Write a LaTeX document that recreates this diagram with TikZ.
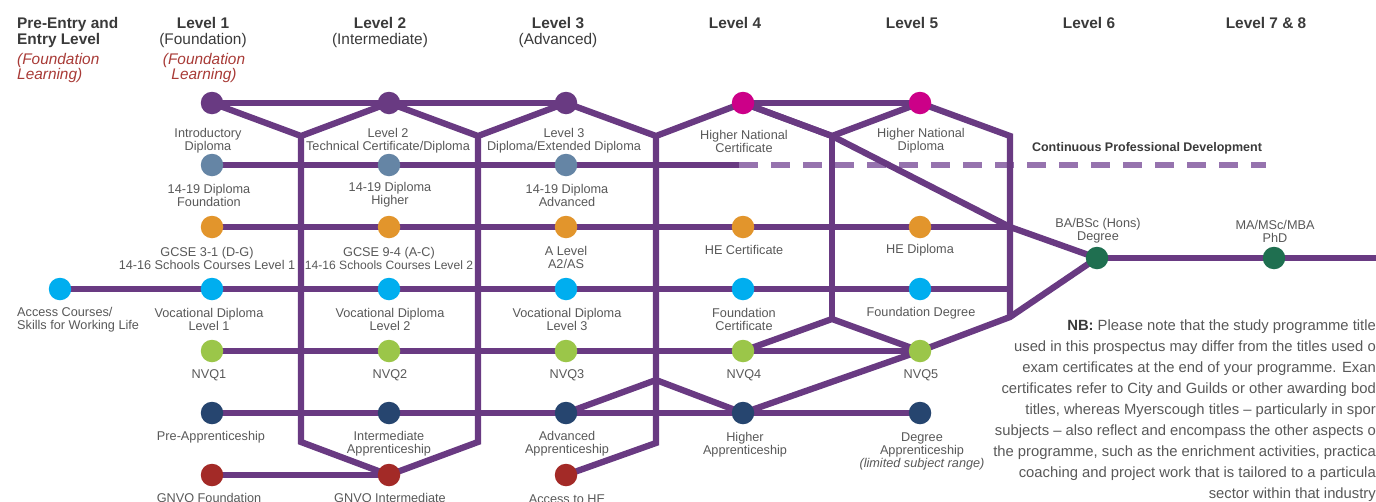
\documentclass[tikz,border=0pt]{standalone}
\usepackage{fontspec}
\setmainfont{Liberation Sans}
\usetikzlibrary{backgrounds}
\definecolor{route}{HTML}{693A82}
\definecolor{routelight}{HTML}{9673AE}
\definecolor{cpurple}{HTML}{693A82}
\definecolor{cslate}{HTML}{6585A5}
\definecolor{corange}{HTML}{E2952C}
\definecolor{ccyan}{HTML}{00AEEF}
\definecolor{clime}{HTML}{9BC649}
\definecolor{cnavy}{HTML}{26456F}
\definecolor{cred}{HTML}{A32A27}
\definecolor{cmagenta}{HTML}{CC0088}
\definecolor{cgreen}{HTML}{1F6F50}
\definecolor{labelgray}{HTML}{585858}
\definecolor{headgray}{HTML}{3A3A3A}
\definecolor{redtext}{HTML}{A83A36}
\tikzset{
  station/.style={circle,minimum size=22.5pt,inner sep=0pt,fill=#1},
  lab/.style={inner sep=0pt,align=center,text=labelgray,yshift=-1.2pt,font=\fontsize{12.7}{13}\selectfont},
  lableft/.style={lab,align=left,anchor=west},
  head/.style={inner sep=0pt,align=center,text=headgray,yshift=-1.5pt,font=\fontsize{15.4}{16}\selectfont},
  redlab/.style={inner sep=0pt,align=center,text=redtext,yshift=-2.5pt,font=\fontsize{15.4}{15}\selectfont\itshape},
  routeline/.style={draw=route,line width=6.3pt,line join=miter},
  cpdline/.style={draw=routelight,line width=6.3pt,dash pattern=on 19pt off 13pt}
}
\begin{document}
\begin{tikzpicture}[x=1pt,y=-1pt]
\useasboundingbox (0,0) rectangle (1376,501);
\clip (0,0) rectangle (1376,501);
% stations
\node[station=ccyan] (acc) at (60,289) {};
\foreach \n/\x in {1/212,2/389,3/566}{
  \node[station=cpurple] (t\n) at (\x,103) {};
  \node[station=cslate] (d\n) at (\x,165) {};
}
\node[station=cmagenta] (t4) at (743,103) {};
\node[station=cmagenta] (t5) at (920,103) {};
\foreach \n/\x in {1/212,2/389,3/566,4/743,5/920}{
  \node[station=corange] (o\n) at (\x,227) {};
  \node[station=ccyan] (v\n) at (\x,289) {};
  \node[station=clime] (q\n) at (\x,351) {};
  \node[station=cnavy] (a\n) at (\x,413) {};
}
\node[station=cred] (g1) at (212,475) {};
\node[station=cred] (g2) at (389,475) {};
\node[station=cred] (g3) at (566,475) {};
\node[station=cgreen] (ba) at (1097,258) {};
\node[station=cgreen] (ma) at (1274,258) {};
% junctions
\coordinate (j1) at (301,136);
\coordinate (j2) at (478,136);
\coordinate (j3) at (656,136);
\coordinate (j4) at (832,136);
\coordinate (j5) at (1010,136);
\coordinate (b1) at (301,442);
\coordinate (b2) at (478,442);
\coordinate (b3) at (656,443);
\coordinate (m3) at (656,380);
\coordinate (m4) at (832,319);
\coordinate (m5) at (1010,317);
\coordinate (x5) at (1010,227);
\coordinate (r5) at (1010,289);
\coordinate (cs) at (739,165);
\coordinate (ce) at (1266,165);
\coordinate (e1) at (1376,258);
% connectors
\begin{pgfonlayer}{background}
\draw[cpdline] (cs) -- (ce);
\draw[routeline] (t1.center) -- (t2.center) -- (t3.center);
\draw[routeline] (t4.center) -- (t5.center);
\draw[routeline] (t1.center) -- (j1) -- (t2.center) -- (j2) -- (t3.center) -- (j3) -- (t4.center) -- (j4) -- (t5.center) -- (j5) -- (m5);
\draw[routeline] (d1.center) -- (d2.center) -- (d3.center) -- (cs);
\draw[routeline] (o1.center) -- (o2.center) -- (o3.center) -- (o4.center) -- (o5.center) -- (x5);
\draw[routeline] (acc.center) -- (v1.center) -- (v2.center) -- (v3.center) -- (v4.center) -- (v5.center) -- (r5);
\draw[routeline] (q1.center) -- (q2.center) -- (q3.center) -- (q4.center) -- (q5.center);
\draw[routeline] (a1.center) -- (a2.center) -- (a3.center) -- (a4.center) -- (a5.center);
\draw[routeline] (g1.center) -- (g2.center);
\draw[routeline] (j1) -- (b1) -- (g2.center) -- (b2) -- (j2);
\draw[routeline] (j3) -- (b3) -- (g3.center);
\draw[routeline] (a3.center) -- (m3) -- (a4.center) -- (q5.center) -- (m5) -- (ba.center);
\draw[routeline] (j4) -- (m4);
\draw[routeline] (q4.center) -- (m4) -- (q5.center);
\draw[routeline] (t4.center) -- (j4) -- (x5) -- (ba.center);
\draw[routeline] (ba.center) -- (ma.center) -- (e1);
\end{pgfonlayer}
% headers
\node[head,align=left,anchor=north west,font=\fontsize{15.4}{16}\selectfont\bfseries] (h0) at (17,16) {Pre-Entry and\\Entry Level};
\node[redlab,align=left,anchor=north west] (r0) at (17,51) {(Foundation\\Learning)};
\node[head] (h1) at (203,31) {\textbf{Level 1}\\(Foundation)};
\node[redlab] (r1) at (204,66) {(Foundation\\Learning)};
\node[head] (h2) at (380,31) {\textbf{Level 2}\\(Intermediate)};
\node[head] (h3) at (558,31) {\textbf{Level 3}\\(Advanced)};
\node[head,font=\fontsize{15.4}{16}\selectfont\bfseries] (h4) at (735,21.5) {Level 4};
\node[head,font=\fontsize{15.4}{16}\selectfont\bfseries] (h5) at (912,21.5) {Level 5};
\node[head,font=\fontsize{15.4}{16}\selectfont\bfseries] (h6) at (1089,21.5) {Level 6};
\node[head,font=\fontsize{15.4}{16}\selectfont\bfseries] (h7) at (1266,21.5) {Level 7 \& 8};
\node[head,font=\fontsize{12.5}{13}\selectfont\bfseries] (cpd) at (1147,147) {Continuous Professional Development};
% labels
\node[lab] (l01) at (208,140) {Introductory\\Diploma};
\node[lab] (l02) at (388,140) {Level 2\\Technical Certificate/Diploma};
\node[lab] (l03) at (564,140) {Level 3\\Diploma/Extended Diploma};
\node[lab] (l04) at (744,140) {Higher National\\Certificate};
\node[lab] (l05) at (921,140) {Higher National\\Diploma};
\node[lab] (l06) at (209,194) {14-19 Diploma\\Foundation};
\node[lab] (l07) at (390,194) {14-19 Diploma\\Higher};
\node[lab] (l08) at (567,194) {14-19 Diploma\\Advanced};
\node[lab] (l09) at (207,257) {GCSE 3-1 (D-G)\\14-16 Schools Courses Level 1};
\node[lab] (l10) at (389,257) {GCSE 9-4 (A-C)\\\fontsize{12.1}{13}\selectfont 14-16 Schools Courses Level 2};
\node[lab] (l11) at (566,256) {A Level\\A2/AS};
\node[lab] (l12) at (744,249) {HE Certificate};
\node[lab] (l13) at (920,249) {HE Diploma};
\node[lableft] (l14) at (17,319) {Access Courses/\\Skills for Working Life};
\node[lab] (l15) at (209,318) {Vocational Diploma\\Level 1};
\node[lab] (l16) at (390,318) {Vocational Diploma\\Level 2};
\node[lab] (l17) at (567,318) {Vocational Diploma\\Level 3};
\node[lab] (l18) at (744,318) {Foundation\\Certificate};
\node[lab] (l19) at (921,312) {Foundation Degree};
\node[lab] (l20) at (209,374) {NVQ1};
\node[lab] (l21) at (390,374) {NVQ2};
\node[lab] (l22) at (567,374) {NVQ3};
\node[lab] (l23) at (744,374) {NVQ4};
\node[lab] (l24) at (921,374) {NVQ5};
\node[lab] (l25) at (211,436) {Pre-Apprenticeship};
\node[lab] (l26) at (389,443) {Intermediate\\Apprenticeship};
\node[lab] (l27) at (567,443) {Advanced\\Apprenticeship};
\node[lab] (l28) at (745,444) {Higher\\Apprenticeship};
\node[lab] (l29) at (922,450) {Degree\\Apprenticeship\\{\itshape (limited subject range)}};
\node[lab] (l30) at (209,498) {GNVQ Foundation};
\node[lab] (l31) at (390,498) {GNVQ Intermediate};
\node[lab] (l32) at (567,498) {Access to HE};
\node[lab] (l33) at (1098,230) {BA/BSc (Hons)\\Degree};
\node[lab] (l34) at (1275,230) {MA/MSc/MBA\\PhD};
% note
\node[inner sep=0pt,anchor=north east,align=right,text=labelgray,font=\fontsize{14.8}{21}\selectfont] (nb) at (1376,320) {\textcolor{headgray}{\textbf{NB:}} Please note that the study programme title\\
used in this prospectus may differ from the titles used o\\
exam certificates at the end of your programme. Exan\\
certificates refer to City and Guilds or other awarding bod\\
titles, whereas Myerscough titles -- particularly in spor\\
subjects -- also reflect and encompass the other aspects o\\
the programme, such as the enrichment activities, practica\\
coaching and project work that is tailored to a particula\\
sector within that industry};
\end{tikzpicture}
\end{document}
